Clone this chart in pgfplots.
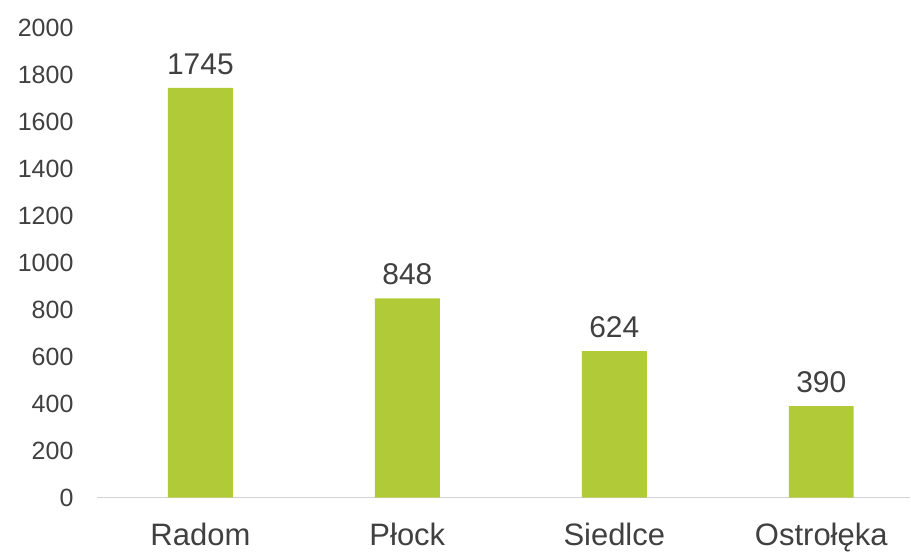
\documentclass[border=0pt]{standalone}
\usepackage{pgfplots}
\pgfplotsset{compat=1.18}
\usepackage{fontspec}
\setmainfont{Liberation Sans}
\definecolor{bargreen}{RGB}{176,203,55}
\definecolor{txtgray}{RGB}{64,64,64}
\definecolor{axgray}{RGB}{210,210,210}
\begin{document}
\begin{tikzpicture}
\path (-97pt,-54pt) rectangle (814pt,498pt);
\begin{axis}[
  at={(0pt,0pt)}, anchor=south west,
  scale only axis,
  width=814pt, height=470pt,
  ymin=0, ymax=2000,
  ytick={0,200,...,2000},
  xmin=-0.5, xmax=3.43,
  xtick=data,
  xticklabels={Radom,Płock,Siedlce,Ostrołęka},
  axis line style={draw=none},
  major tick length=0pt,
  tick style={draw=none},
  ybar, bar width=65pt,
  /pgf/number format/assume math mode=true,
  /pgf/number format/1000 sep={},
  yticklabel style={font=\fontsize{25}{25}\selectfont, text=txtgray, xshift=-20pt},
  xticklabel style={font=\fontsize{31}{31}\selectfont, text=txtgray, yshift=-22pt},
  nodes near coords,
  nodes near coords style={font=\fontsize{30}{30}\selectfont, text=txtgray, yshift=10pt, /pgf/number format/1000 sep={}},
  clip=false,
  extra y ticks={0},
  extra y tick labels={},
  extra y tick style={grid=major, major grid style={axgray, line width=1.5pt}},
]
\addplot[fill=bargreen, draw=none] coordinates {(0,1745) (1,848) (2,624) (3,390)};
\end{axis}
\end{tikzpicture}
\end{document}
